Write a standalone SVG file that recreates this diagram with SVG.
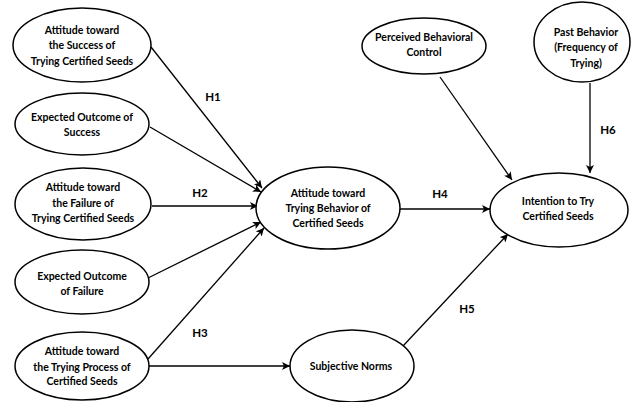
<svg xmlns="http://www.w3.org/2000/svg" width="634" height="402" viewBox="0 0 634 402">
<defs>
<marker id="ah" viewBox="0 0 10 10" refX="10" refY="5" markerWidth="8" markerHeight="8" markerUnits="userSpaceOnUse" orient="auto">
<path d="M0,0 L10,5 L0,10 L2.5,5 Z" fill="#000"/>
</marker>
<style>
.n ellipse{fill:#fff;stroke:#000;stroke-width:1.5}
text{font-family:Lato,"Liberation Sans",sans-serif;font-weight:bold;font-size:10.5px;fill:#000;text-anchor:middle}
.c line{stroke:#000;stroke-width:1.3;marker-end:url(#ah)}
.lbl{font-size:11.5px}
</style>
</defs>
<rect width="634" height="402" fill="#fff"/>
<g class="c" id="connectors">
<line x1="151" y1="47" x2="262" y2="188"/>
<line x1="150" y1="127" x2="261" y2="192"/>
<line x1="152" y1="206" x2="258" y2="206"/>
<line x1="148" y1="278" x2="261" y2="222"/>
<line x1="148" y1="359" x2="264" y2="228"/>
<line x1="149" y1="366" x2="290" y2="366"/>
<line x1="400" y1="209" x2="490" y2="209"/>
<line x1="440" y1="77" x2="512" y2="180"/>
<line x1="590" y1="83" x2="590" y2="173"/>
<line x1="403" y1="346" x2="508" y2="234"/>
</g>
<g id="labels">
<text class="lbl" x="213" y="101">H1</text>
<text class="lbl" x="200" y="197">H2</text>
<text class="lbl" x="200" y="337">H3</text>
<text class="lbl" x="440" y="198">H4</text>
<text class="lbl" x="467" y="313">H5</text>
<text class="lbl" x="608" y="134">H6</text>
</g>
<g class="n" id="n1"><ellipse cx="82" cy="45" rx="69" ry="37"/>
<text x="82" y="33.5">Attitude toward</text><text x="82" y="49">the Success of</text><text x="82" y="64.5">Trying Certified Seeds</text></g>
<g class="n" id="n2"><ellipse cx="82" cy="124" rx="67" ry="31"/>
<text x="82" y="120.5">Expected Outcome of</text><text x="82" y="136">Success</text></g>
<g class="n" id="n3"><ellipse cx="83" cy="204" rx="68" ry="36"/>
<text x="83" y="190.5">Attitude toward</text><text x="83" y="206.5">the Failure of</text><text x="83" y="221.5">Trying Certified Seeds</text></g>
<g class="n" id="n4"><ellipse cx="82" cy="282" rx="67" ry="32"/>
<text x="82" y="280">Expected Outcome</text><text x="82" y="295">of Failure</text></g>
<g class="n" id="n5"><ellipse cx="82" cy="366" rx="67" ry="34"/>
<text x="82" y="355">Attitude toward</text><text x="82" y="370.5">the Trying Process of</text><text x="82" y="385">Certified Seeds</text></g>
<g class="n" id="n6"><ellipse cx="328" cy="208" rx="72" ry="41"/>
<text x="328" y="197">Attitude toward</text><text x="328" y="212">Trying Behavior of</text><text x="328" y="227">Certified Seeds</text></g>
<g class="n" id="n7"><ellipse cx="559" cy="210" rx="69" ry="37"/>
<text x="558" y="205">Intention to Try</text><text x="558" y="220">Certified Seeds</text></g>
<g class="n" id="n8"><ellipse cx="424" cy="46" rx="62" ry="28"/>
<text x="424" y="41">Perceived Behavioral</text><text x="424" y="56">Control</text></g>
<g class="n" id="n9"><ellipse cx="582" cy="42" rx="48" ry="40"/>
<text x="586" y="36">Past Behavior</text><text x="586" y="51">(Frequency of</text><text x="586" y="67">Trying)</text></g>
<g class="n" id="n10"><ellipse cx="352" cy="366" rx="62" ry="36"/>
<text x="351" y="370">Subjective Norms</text></g>
</svg>
